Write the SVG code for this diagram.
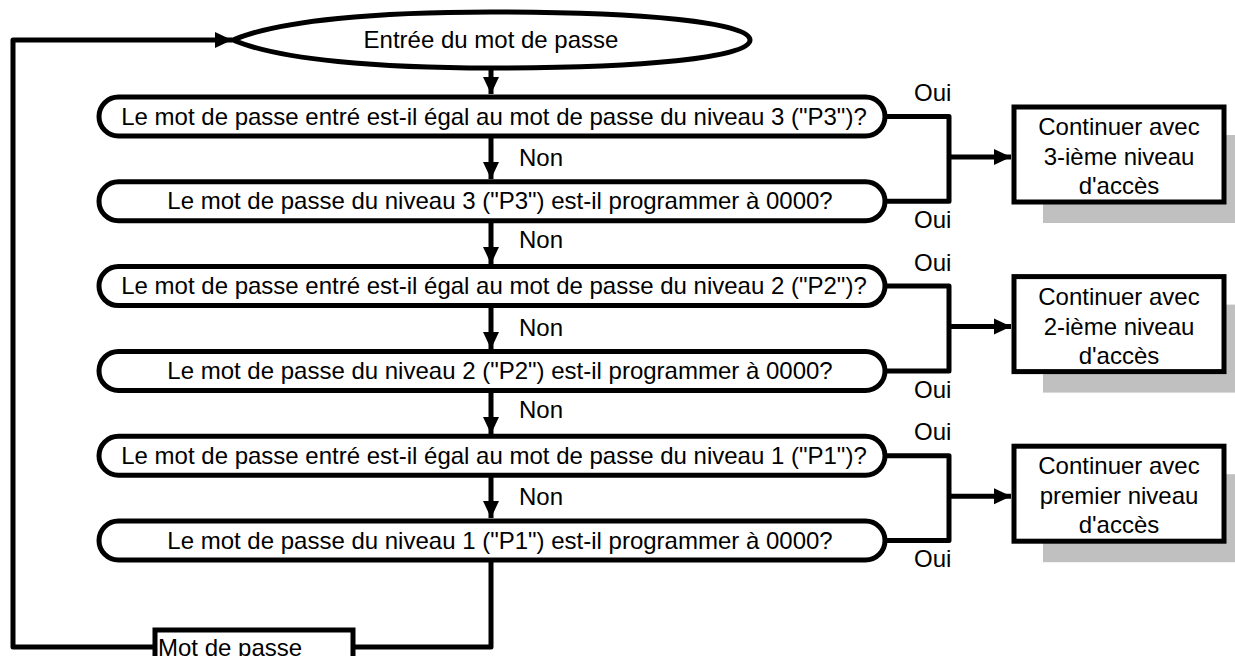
<svg xmlns="http://www.w3.org/2000/svg" width="1235" height="656" viewBox="0 0 1235 656">
<defs>
<marker id="ah" markerUnits="userSpaceOnUse" markerWidth="18" markerHeight="18" viewBox="0 0 18 18" refX="17" refY="9" orient="auto">
<path d="M0,1 L17,9 L0,17 Z" fill="#000"/>
</marker>
</defs>
<style>
.bx{fill:#fff;stroke:#000;stroke-width:5}
.ln{fill:none;stroke:#000;stroke-width:5;stroke-linejoin:round}
.sh{fill:#c0c0c0}
text{font-family:"Liberation Sans",Arial,sans-serif;font-size:24px;fill:#000}
.c{text-anchor:middle}
</style>
<rect width="1235" height="656" fill="#fff"/>
<g id="connectors">
<path class="ln" d="M491,68 V94" marker-end="url(#ah)"/>
<path class="ln" d="M491,136 V179" marker-end="url(#ah)"/>
<path class="ln" d="M491,221 V264" marker-end="url(#ah)"/>
<path class="ln" d="M491,305 V349" marker-end="url(#ah)"/>
<path class="ln" d="M491,390 V434" marker-end="url(#ah)"/>
<path class="ln" d="M491,475 V518" marker-end="url(#ah)"/>
<path class="ln" d="M885,116.5 H949 V201.3 H885"/>
<path class="ln" d="M949,157 H1011" marker-end="url(#ah)"/>
<path class="ln" d="M885,286.1 H949 V370.9 H885"/>
<path class="ln" d="M949,326.6 H1011" marker-end="url(#ah)"/>
<path class="ln" d="M885,455.7 H949 V540.5 H885"/>
<path class="ln" d="M949,496.2 H1011" marker-end="url(#ah)"/>
<path class="ln" d="M491,560 V647 H353"/>
<path class="ln" d="M155,647 H13 V40 H232" marker-end="url(#ah)"/>
<text x="519" y="166">Non</text>
<text x="519" y="248">Non</text>
<text x="519" y="336">Non</text>
<text x="519" y="418">Non</text>
<text x="519" y="505">Non</text>
<text x="914" y="101">Oui</text>
<text x="914" y="228">Oui</text>
<text x="914" y="271">Oui</text>
<text x="914" y="398">Oui</text>
<text x="914" y="440">Oui</text>
<text x="914" y="567">Oui</text>
</g>
<g id="start">
<path class="bx" d="M233,40 C280,20 380,12 491,12 C640,12 750,22 750,40 C750,58 640,68 491,68 C380,68 280,60 233,40 Z"/>
<text class="c" x="491" y="48">Entrée du mot de passe</text>
</g>
<g id="q1"><rect class="bx" x="99" y="97" width="786" height="39" rx="19.5"/><text class="c" x="494" y="124.5">Le mot de passe entré est-il égal au mot de passe du niveau 3 ("P3")?</text></g>
<g id="q2"><rect class="bx" x="99" y="181.8" width="786" height="39" rx="19.5"/><text class="c" x="500" y="209.3">Le mot de passe du niveau 3 ("P3") est-il programmer à 0000?</text></g>
<g id="q3"><rect class="bx" x="99" y="266.6" width="786" height="39" rx="19.5"/><text class="c" x="494" y="294.1">Le mot de passe entré est-il égal au mot de passe du niveau 2 ("P2")?</text></g>
<g id="q4"><rect class="bx" x="99" y="351.4" width="786" height="39" rx="19.5"/><text class="c" x="500" y="378.9">Le mot de passe du niveau 2 ("P2") est-il programmer à 0000?</text></g>
<g id="q5"><rect class="bx" x="99" y="436.2" width="786" height="39" rx="19.5"/><text class="c" x="494" y="463.7">Le mot de passe entré est-il égal au mot de passe du niveau 1 ("P1")?</text></g>
<g id="q6"><rect class="bx" x="99" y="521" width="786" height="39" rx="19.5"/><text class="c" x="500" y="548.5">Le mot de passe du niveau 1 ("P1") est-il programmer à 0000?</text></g>
<g id="acc3">
<rect class="sh" x="1043" y="135" width="200" height="88"/>
<rect class="bx" x="1014" y="107" width="210" height="95"/>
<text class="c" x="1119" y="135">Continuer avec</text>
<text class="c" x="1119" y="165">3-ième niveau</text>
<text class="c" x="1119" y="194">d'accès</text>
</g>
<g id="acc2">
<rect class="sh" x="1043" y="304.6" width="200" height="88"/>
<rect class="bx" x="1014" y="276.6" width="210" height="95"/>
<text class="c" x="1119" y="304.6">Continuer avec</text>
<text class="c" x="1119" y="334.6">2-ième niveau</text>
<text class="c" x="1119" y="363.6">d'accès</text>
</g>
<g id="acc1">
<rect class="sh" x="1043" y="474.2" width="200" height="88"/>
<rect class="bx" x="1014" y="446.2" width="210" height="95"/>
<text class="c" x="1119" y="474.2">Continuer avec</text>
<text class="c" x="1119" y="504.2">premier niveau</text>
<text class="c" x="1119" y="533.2">d'accès</text>
</g>
<g id="wrong">
<rect class="bx" x="155" y="630" width="198" height="40"/>
<text x="158" y="656">Mot de passe</text>
</g>
</svg>
